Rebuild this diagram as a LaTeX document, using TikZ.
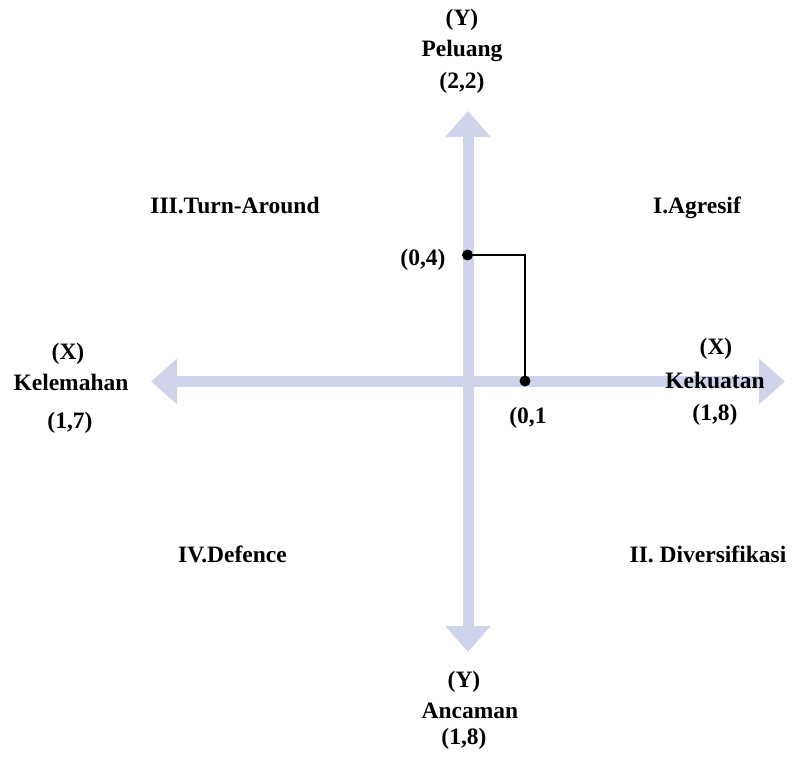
\documentclass[tikz,border=0pt]{standalone}
\usepackage{fontspec}
\setmainfont{Liberation Serif}
\usetikzlibrary{arrows.meta}
\definecolor{axiscol}{RGB}{206,213,235}
\begin{document}
\begin{tikzpicture}[x=1pt,y=-1pt,
  lbl/.style={inner sep=0pt, anchor=base, font=\bfseries\fontsize{23.5}{28}\selectfont},
  axis/.style={axiscol, line width=11pt, {Triangle[width=44pt,length=26pt]}-{Triangle[width=44pt,length=26pt]}},
  dot/.style={circle, fill=black, inner sep=0pt, minimum size=11pt},
  link/.style={black, line width=2.6pt}]
\useasboundingbox (0,0) rectangle (792,757);
% axes
\coordinate (L) at (151,381.5);
\coordinate (R) at (785,381.5);
\coordinate (T) at (468,111);
\coordinate (B) at (468,652);
\draw[axis] (L) -- (R);
\draw[axis] (T) -- (B);
% point
\node[dot] (p4) at (467.5,255) {};
\node[dot] (p1) at (525,381) {};
\draw[link] (p4.center) -| (p1.center);
% labels
\node[lbl] (ty) at (462,26) {(Y)};
\node[lbl] (tp) at (462,57) {Peluang};
\node[lbl] (tv) at (462,89) {(2,2)};
\node[lbl] (by) at (464,687) {(Y)};
\node[lbl] (ba) at (470,718) {Ancaman};
\node[lbl] (bv) at (464,744) {(1,8)};
\node[lbl] (lx) at (68,359) {(X)};
\node[lbl] (lk) at (71,390) {Kelemahan};
\node[lbl] (lv) at (70,428) {(1,7)};
\node[lbl] (rx) at (716,354) {(X)};
\node[lbl] (rk) at (715,388) {Kekuatan};
\node[lbl] (rv) at (715,420) {(1,8)};
\node[lbl] (q3) at (235,213) {III.Turn-Around};
\node[lbl] (q1) at (697,213) {I.Agresif};
\node[lbl] (q4) at (232.5,562) {IV.Defence};
\node[lbl] (q2) at (708,562) {II. Diversifikasi};
\node[lbl] (l4) at (423,265) {(0,4)};
\node[lbl] (l1) at (528,423) {(0,1};
\end{tikzpicture}
\end{document}
